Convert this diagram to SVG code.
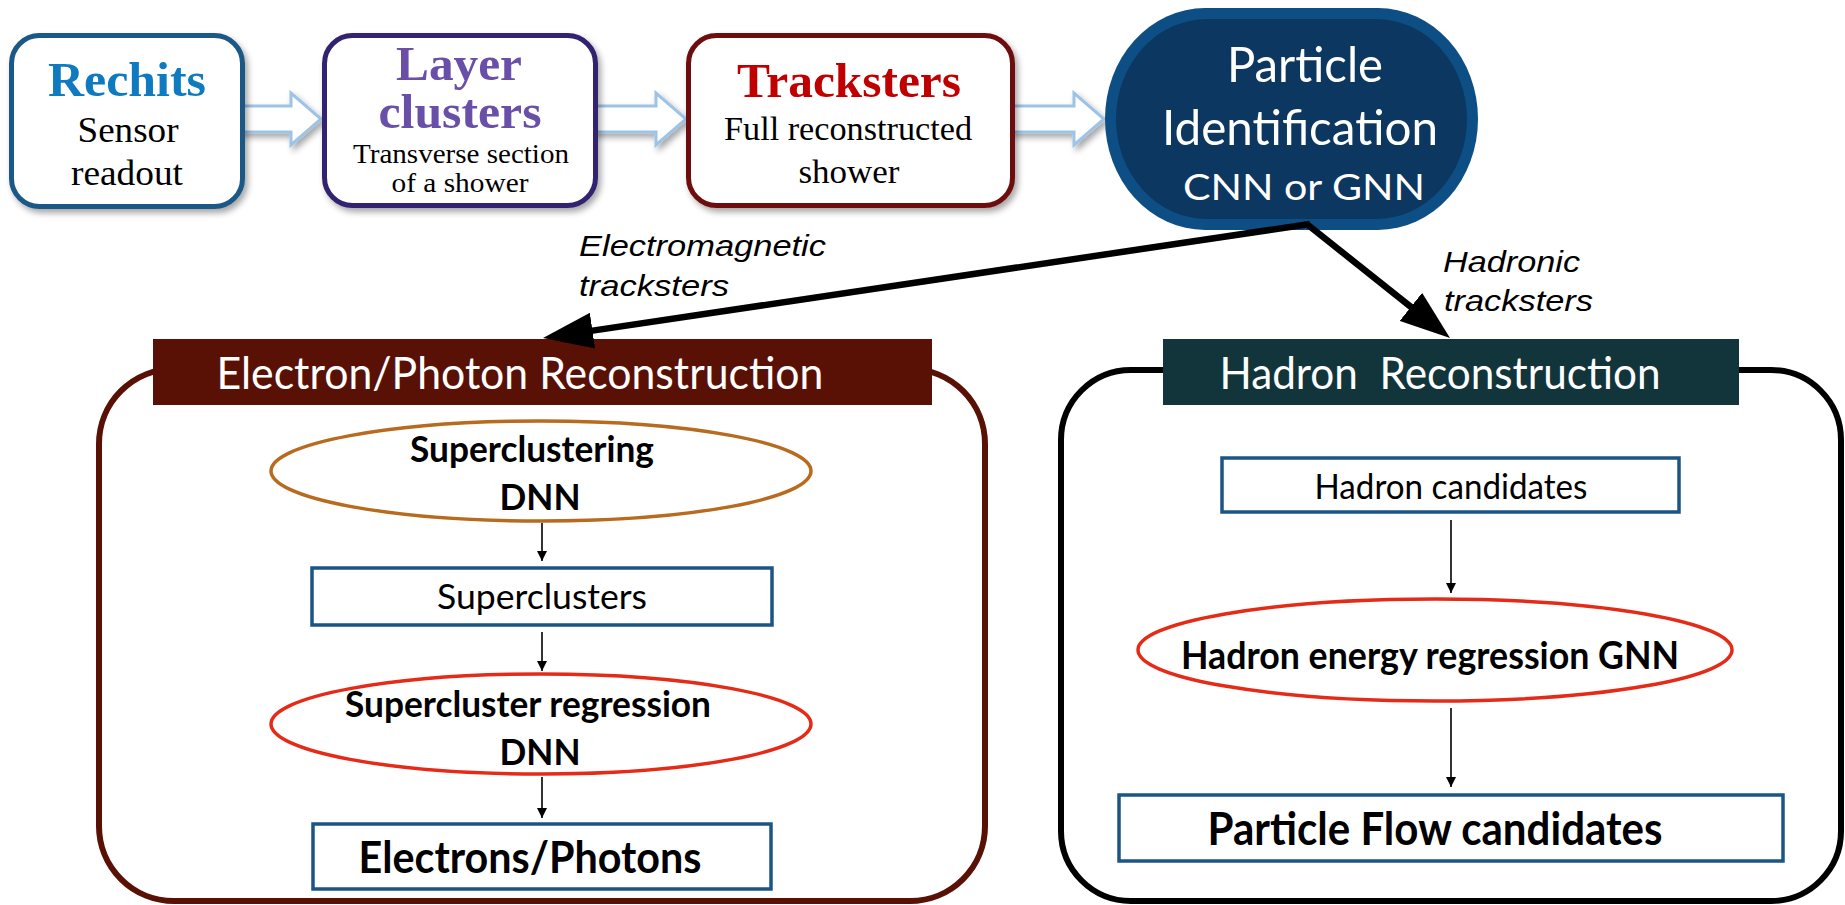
<svg xmlns="http://www.w3.org/2000/svg" width="1845" height="905" viewBox="0 0 1845 905">
  <defs>
    <filter id="shadow" x="-10%" y="-10%" width="130%" height="130%">
      <feDropShadow dx="3" dy="4" stdDeviation="3" flood-color="#000" flood-opacity="0.35"/>
    </filter>
    <marker id="bigHead" markerUnits="userSpaceOnUse" markerWidth="50" markerHeight="36" refX="10" refY="18" orient="auto">
      <path d="M0,0 L50,18 L0,36 Z" fill="#000"/>
    </marker>
    <marker id="smallHead" markerUnits="userSpaceOnUse" markerWidth="10" markerHeight="10" refX="10" refY="5" orient="auto">
      <path d="M0,0 L10,5 L0,10 Z" fill="#000"/>
    </marker>
  </defs>
  <style>
    .stage { fill: #fff; stroke-width: 5; filter: url(#shadow); }
    .flow { fill: #fff; stroke: #9DC3E6; stroke-width: 3; stroke-linejoin: miter; filter: url(#shadow); }
    .serifHead { font-family: "Liberation Serif", "Times New Roman", serif; font-weight: bold; font-size: 48px; text-anchor: middle; }
    .serifBody { font-family: "Liberation Serif", "Times New Roman", serif; fill: #000; text-anchor: middle; }
    .sans { font-family: Lato, "Open Sans", "DejaVu Sans", sans-serif; text-anchor: middle; }
    .label { font-family: "Liberation Sans", Arial, sans-serif; font-style: italic; font-size: 30px; fill: #000; }
    .box { fill: #fff; stroke: #1B5585; stroke-width: 3.5; }
    .ell { fill: none; stroke-width: 3.5; }
    .thin { stroke: #000; stroke-width: 1.6; fill: none; marker-end: url(#smallHead); }
    .thick { stroke: #000; stroke-width: 6.5; fill: none; marker-end: url(#bigHead); }
  </style>

  <rect width="1845" height="905" fill="#fff"/>

  <!-- block arrows between the stages of the top row -->
  <g id="flow-arrows">
    <path class="flow" d="M240,106 H291 V93 L321,119 L291,145 V132 H240 Z"/>
    <path class="flow" d="M592,106 H656 V93 L686,119 L656,145 V132 H592 Z"/>
    <path class="flow" d="M1011,106 H1074 V93 L1104,119 L1074,145 V132 H1011 Z"/>
  </g>

  <g id="rechits">
    <rect class="stage" x="11.5" y="35.5" width="231" height="171" rx="28" stroke="#1B5886"/>
    <text class="serifHead" x="127" y="96" fill="#0E7BC0" textLength="158" lengthAdjust="spacingAndGlyphs">Rechits</text>
    <text class="serifBody" x="128" y="142" font-size="35" textLength="101" lengthAdjust="spacingAndGlyphs">Sensor</text>
    <text class="serifBody" x="127" y="185" font-size="35" textLength="112" lengthAdjust="spacingAndGlyphs">readout</text>
  </g>

  <g id="layer-clusters">
    <rect class="stage" x="324.5" y="35.5" width="271" height="170" rx="28" stroke="#32206F"/>
    <text class="serifHead" x="459" y="80" fill="#6A4FA8" textLength="126" lengthAdjust="spacingAndGlyphs">Layer</text>
    <text class="serifHead" x="460" y="128" fill="#6A4FA8" textLength="163" lengthAdjust="spacingAndGlyphs">clusters</text>
    <text class="serifBody" x="461" y="163" font-size="28" textLength="216" lengthAdjust="spacingAndGlyphs">Transverse section</text>
    <text class="serifBody" x="460" y="192" font-size="28" textLength="137" lengthAdjust="spacingAndGlyphs">of a shower</text>
  </g>

  <g id="tracksters">
    <rect class="stage" x="688.5" y="35.5" width="324" height="170" rx="28" stroke="#6E0B0B"/>
    <text class="serifHead" x="849" y="97" fill="#C00000" textLength="224" lengthAdjust="spacingAndGlyphs">Tracksters</text>
    <text class="serifBody" x="848" y="140" font-size="33" textLength="248" lengthAdjust="spacingAndGlyphs">Full reconstructed</text>
    <text class="serifBody" x="849" y="183" font-size="33" textLength="101" lengthAdjust="spacingAndGlyphs">shower</text>
  </g>

  <g id="particle-id">
    <rect x="1105" y="8" width="373" height="222" rx="100" ry="111" fill="#0D4F84"/>
    <rect x="1116" y="19" width="351" height="200" rx="91" ry="100" fill="#0B3761"/>
    <text class="sans" x="1305" y="82" font-size="49" fill="#fff" textLength="156" lengthAdjust="spacingAndGlyphs">Particle</text>
    <text class="sans" x="1300" y="145" font-size="49" fill="#fff" textLength="276" lengthAdjust="spacingAndGlyphs">Identification</text>
    <text class="sans" x="1304" y="200" font-size="37" fill="#fff" textLength="242" lengthAdjust="spacingAndGlyphs">CNN or GNN</text>
  </g>

  <!-- electromagnetic branch -->
  <g id="egamma-panel">
    <rect x="99" y="369" width="886" height="532" rx="75" fill="none" stroke="#5A1105" stroke-width="6"/>
    <rect x="153" y="339" width="779" height="66" fill="#5A1105"/>
    <text class="sans" x="520" y="389" font-size="45" fill="#fff" textLength="607" lengthAdjust="spacingAndGlyphs">Electron/Photon Reconstruction</text>
  </g>

  <g id="superclustering-dnn">
    <ellipse class="ell" cx="541" cy="471" rx="270" ry="50" stroke="#B86A1E"/>
    <text class="sans" x="532" y="462" font-size="36" font-weight="bold" fill="#000" textLength="244" lengthAdjust="spacingAndGlyphs">Superclustering</text>
    <text class="sans" x="540" y="510" font-size="37" font-weight="bold" fill="#000" textLength="81" lengthAdjust="spacingAndGlyphs">DNN</text>
  </g>

  <g id="superclusters">
    <rect class="box" x="312" y="568" width="460" height="57"/>
    <text class="sans" x="542" y="609" font-size="35" fill="#000" textLength="210" lengthAdjust="spacingAndGlyphs">Superclusters</text>
  </g>

  <g id="supercluster-regression">
    <ellipse class="ell" cx="541" cy="724" rx="270" ry="50" stroke="#E52B17"/>
    <text class="sans" x="528" y="717" font-size="36" font-weight="bold" fill="#000" textLength="366" lengthAdjust="spacingAndGlyphs">Supercluster regression</text>
    <text class="sans" x="540" y="765" font-size="37" font-weight="bold" fill="#000" textLength="81" lengthAdjust="spacingAndGlyphs">DNN</text>
  </g>

  <g id="electrons-photons">
    <rect class="box" x="313" y="824" width="458" height="65"/>
    <text class="sans" x="530" y="873" font-size="44" font-weight="bold" fill="#000" textLength="343" lengthAdjust="spacingAndGlyphs">Electrons/Photons</text>
  </g>

  <!-- hadronic branch -->
  <g id="hadron-panel">
    <rect x="1061" y="370" width="780" height="531" rx="70" fill="none" stroke="#000" stroke-width="6"/>
    <rect x="1163" y="339" width="576" height="66" fill="#11353B"/>
    <text class="sans" x="1440" y="389" font-size="45" fill="#fff" style="white-space:pre" textLength="441" lengthAdjust="spacingAndGlyphs">Hadron  Reconstruction</text>
  </g>

  <g id="hadron-candidates">
    <rect class="box" x="1222" y="458" width="457" height="54"/>
    <text class="sans" x="1451" y="499" font-size="35" fill="#000" textLength="273" lengthAdjust="spacingAndGlyphs">Hadron candidates</text>
  </g>

  <g id="hadron-energy-regression">
    <ellipse class="ell" cx="1435" cy="650" rx="297" ry="51" stroke="#E52B17"/>
    <text class="sans" x="1430" y="669" font-size="38" font-weight="bold" fill="#000" textLength="498" lengthAdjust="spacingAndGlyphs">Hadron energy regression GNN</text>
  </g>

  <g id="pf-candidates">
    <rect class="box" x="1119" y="795" width="664" height="66"/>
    <text class="sans" x="1435" y="845" font-size="45" font-weight="bold" fill="#000" textLength="455" lengthAdjust="spacingAndGlyphs">Particle Flow candidates</text>
  </g>

  <g id="connectors">
    <path class="thick" d="M1310,224 L582.6,332.1"/>
    <path class="thick" d="M1308,225 L1418.7,313.1"/>
    <path class="thin" d="M542,523 V561"/>
    <path class="thin" d="M542,632 V671"/>
    <path class="thin" d="M542,777 V818"/>
    <path class="thin" d="M1451,520 V593"/>
    <path class="thin" d="M1451,708 V787"/>
  </g>

  <g id="branch-labels">
    <text class="label" x="579" y="256" textLength="247" lengthAdjust="spacingAndGlyphs">Electromagnetic</text>
    <text class="label" x="579" y="296" textLength="150" lengthAdjust="spacingAndGlyphs">tracksters</text>
    <text class="label" x="1443" y="272" textLength="137" lengthAdjust="spacingAndGlyphs">Hadronic</text>
    <text class="label" x="1444" y="311" textLength="149" lengthAdjust="spacingAndGlyphs">tracksters</text>
  </g>
</svg>
